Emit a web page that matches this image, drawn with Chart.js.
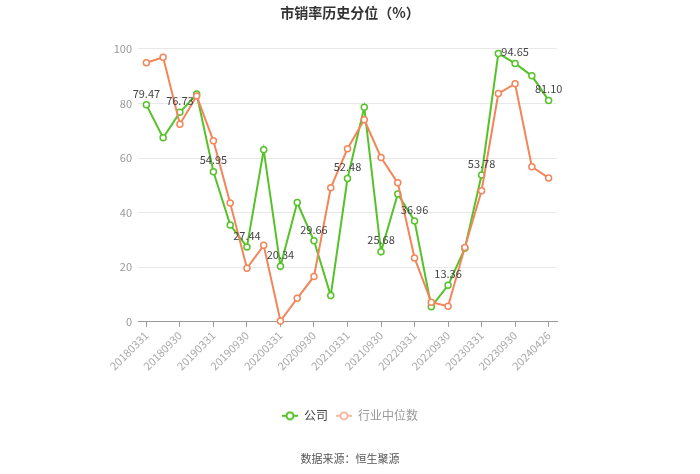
<!DOCTYPE html>
<html>

<head>
  <meta charset="utf-8">
  <title>市销率历史分位</title>
  <script src="https://cdn.jsdelivr.net/npm/chart.js"></script>
  <style>
    body { margin: 0; background: #fff; }
  </style>
</head>

<body>
  <canvas id="psChart" width="700" height="474"></canvas>

  <script>
    // report dates (quarter ends, last one is the latest day)
    const categories = [
      '20180331', '20180630', '20180930', '20181231',
      '20190331', '20190630', '20190930', '20191231',
      '20200331', '20200630', '20200930', '20201231',
      '20210331', '20210630', '20210930', '20211231',
      '20220331', '20220630', '20220930', '20221231',
      '20230331', '20230630', '20230930', '20231231',
      '20240426'
    ];
    // 公司
    const companyValues = [
      79.47, 67.4, 76.73, 83.4, 54.95, 35.5, 27.44, 63.0, 20.34, 43.7,
      29.66, 9.6, 52.48, 78.6, 25.68, 46.8, 36.96, 5.5, 13.36, 26.9,
      53.78, 98.3, 94.65, 90.1, 81.10
    ];
    // 行业中位数
    const industryValues = [
      94.9, 96.9, 72.4, 82.7, 66.3, 43.5, 19.6, 28.0, 0.3, 8.6,
      16.6, 49.1, 63.4, 74.0, 60.2, 50.9, 23.4, 7.2, 5.7, 27.2,
      48.0, 83.6, 87.2, 56.8, 52.7
    ];
    const yTicks = [0, 20, 40, 60, 80, 100];

    const GREEN = '#56c22a';
    const ORANGE = '#f3855a';
    const FONT = '"Noto Sans CJK SC", "Noto Sans", sans-serif';

    // legend symbol: short line with a hollow circle
    function legendIcon(color) {
      const c = document.createElement('canvas');
      c.width = 16;
      c.height = 10;
      const g = c.getContext('2d');
      g.strokeStyle = color;
      g.lineWidth = 2;
      g.beginPath();
      g.moveTo(0, 5);
      g.lineTo(16, 5);
      g.stroke();
      g.beginPath();
      g.arc(8, 5, 3.5, 0, Math.PI * 2);
      g.fillStyle = '#fff';
      g.fill();
      g.stroke();
      return c;
    }

    // value labels above every other company point
    const valueLabels = {
      id: 'valueLabels',
      afterDatasetsDraw(chart) {
        const meta = chart.getDatasetMeta(0);
        const ctx = chart.ctx;
        ctx.save();
        ctx.font = '11px ' + FONT;
        ctx.fillStyle = '#444';
        ctx.textAlign = 'center';
        ctx.textBaseline = 'bottom';
        meta.data.forEach((pt, i) => {
          if (i % 2 !== 0) return;
          ctx.fillText(companyValues[i].toFixed(2), pt.x, pt.y - 6);
        });
        ctx.restore();
      }
    };

    const ctx = document.getElementById('psChart').getContext('2d');
    const psChart = new Chart(ctx, {
      type: 'line',
      data: {
        labels: categories,
        datasets: [
          {
            label: '公司',
            data: companyValues,
            borderColor: GREEN,
            backgroundColor: '#fff',
            borderWidth: 2,
            pointRadius: 3,
            pointBorderWidth: 1.5,
            pointBackgroundColor: '#fff',
            pointBorderColor: GREEN,
            tension: 0,
            clip: false,
            order: 1,
          },
          {
            label: '行业中位数',
            data: industryValues,
            borderColor: ORANGE,
            backgroundColor: '#fff',
            borderWidth: 2,
            pointRadius: 3,
            pointBorderWidth: 1.5,
            pointBackgroundColor: '#fff',
            pointBorderColor: ORANGE,
            tension: 0,
            clip: false,
            order: 0,
          }
        ]
      },
      options: {
        responsive: false,
        animation: false,
        layout: { padding: { left: 0, right: 0, top: 0, bottom: 9 } },
        scales: {
          x: {
            offset: true,
            grid: {
              drawOnChartArea: false,
              offset: false,
              tickLength: 5,
              color: (c) => (c.index % 2 === 0 ? '#999' : 'rgba(0,0,0,0)'),
            },
            border: { color: '#999' },
            ticks: {
              autoSkip: false,
              minRotation: 45,
              maxRotation: 45,
              padding: 2,
              color: '#aaa',
              font: { size: 11, family: FONT },
              callback: (v, i) => (i % 2 === 0 ? categories[i] : ''),
            },
            afterFit: (s) => { s.height = 80; },
          },
          y: {
            min: 0,
            max: 100,
            afterBuildTicks: (s) => { s.ticks = yTicks.map(v => ({ value: v })); },
            grid: { color: '#e8e8e8', drawTicks: false },
            border: { display: false },
            ticks: {
              padding: 6,
              color: '#999',
              font: { size: 11, family: FONT },
            },
            afterFit: (s) => { s.width = 138; },
          },
          yRight: {
            position: 'right',
            min: 0,
            max: 100,
            grid: { display: false, drawTicks: false },
            border: { display: false },
            ticks: { display: false },
            afterFit: (s) => { s.width = 143; },
          }
        },
        plugins: {
          title: {
            display: true,
            text: '市销率历史分位（%）',
            color: '#333',
            font: { size: 14, weight: 'bold', family: FONT },
            padding: { top: 4, bottom: 28 },
          },
          subtitle: {
            display: true,
            position: 'bottom',
            text: '数据来源：恒生聚源',
            color: '#555',
            font: { size: 11, family: FONT },
            padding: { top: 20, bottom: 0 },
          },
          legend: {
            position: 'bottom',
            labels: {
              usePointStyle: true,
              pointStyleWidth: 16,
              padding: 8,
              font: { size: 12, family: FONT },
              generateLabels: () => [
                { text: '公司', pointStyle: legendIcon(GREEN), fontColor: '#444', datasetIndex: 0, lineWidth: 0, strokeStyle: GREEN, fillStyle: '#fff' },
                { text: '行业中位数', pointStyle: legendIcon('#f7b9a0'), fontColor: '#999', datasetIndex: 1, lineWidth: 0, strokeStyle: ORANGE, fillStyle: '#fff' },
              ],
            },
          },
          tooltip: { enabled: false },
        },
      },
      plugins: [valueLabels],
    });
  </script>
</body>

</html>
